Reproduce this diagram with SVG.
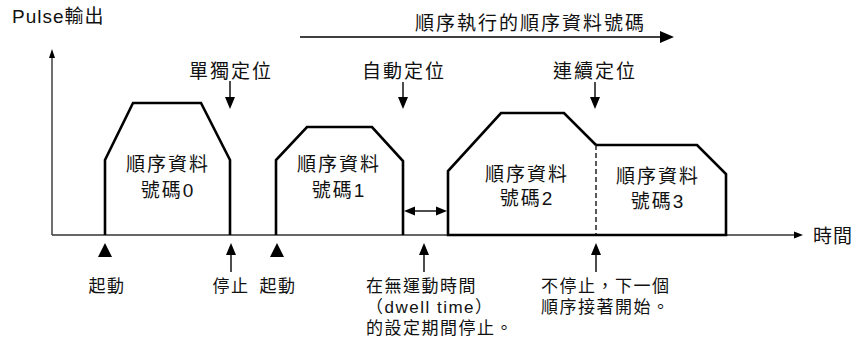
<svg xmlns="http://www.w3.org/2000/svg" width="855" height="347" viewBox="0 0 855 347">
<style>
text{font-family:"Liberation Sans","Noto Sans CJK TC",sans-serif;fill:#111}
.t{font-size:19px;letter-spacing:2px}
.p{font-size:19px;letter-spacing:2px;text-anchor:middle}
.b{font-size:17px;letter-spacing:1.5px}
.bc{font-size:17px;letter-spacing:1.5px;text-anchor:middle}
.ax{stroke:#333;stroke-width:1.4;fill:none}
.pl{stroke:#000;stroke-width:2.6;fill:none;stroke-linejoin:miter}
.ar{stroke:#000;stroke-width:1.4;fill:none}
.tri{fill:#000}
</style>
<g id="axes">
<line class="ax" x1="52" y1="235" x2="52" y2="56"/>
<polygon class="tri" points="52,49 49,58 55,58"/>
<line class="ax" x1="52" y1="235" x2="796" y2="235"/>
<polygon class="tri" points="803,235 794,231.5 794,238.5"/>
<text class="t" x="12" y="23" style="letter-spacing:1px">Pulse輸出</text>
<text class="t" x="813" y="243" style="letter-spacing:1px">時間</text>
</g>
<g id="sequence-arrow">
<line class="ar" x1="300" y1="37" x2="662" y2="37"/>
<polygon class="tri" points="674,37 660,31 660,43"/>
<text class="t" x="415" y="30">順序執行的順序資料號碼</text>
</g>
<g id="pulse0">
<polyline class="pl" points="105,235 105,160 133,103 201,103 230,160 230,235"/>
<text class="p" x="168" y="171">順序資料</text>
<text class="p" x="168" y="197">號碼0</text>
</g>
<g id="pulse1">
<polyline class="pl" points="276,235 276,160 307,127 372,127 403,161 403,235"/>
<text class="p" x="339" y="171">順序資料</text>
<text class="p" x="339" y="197">號碼1</text>
</g>
<g id="pulse2">
<polyline class="pl" points="596,235 448,235 448,171 501,113 564,113 596,145"/>
<line x1="596" y1="145" x2="596" y2="235" stroke="#000" stroke-width="1.3" stroke-dasharray="5,3"/>
<text class="p" x="527" y="181">順序資料</text>
<text class="p" x="527" y="205">號碼2</text>
</g>
<g id="pulse3">
<polyline class="pl" points="596,145 697,145 726,174 726,235 596,235"/>
<text class="p" x="658" y="183">順序資料</text>
<text class="p" x="658" y="208">號碼3</text>
</g>
<g id="labels-top">
<text class="t" x="189" y="78">單獨定位</text>
<text class="t" x="362" y="78">自動定位</text>
<text class="t" x="553" y="78">連續定位</text>
</g>
<g id="connectors">
<line class="ar" x1="230" y1="81" x2="230" y2="98"/>
<polygon class="tri" points="230,109 225,97 235,97"/>
<line class="ar" x1="403" y1="82" x2="403" y2="98"/>
<polygon class="tri" points="403,109 398,97 408,97"/>
<line class="ar" x1="595" y1="82" x2="595" y2="98"/>
<polygon class="tri" points="595,109 590,97 600,97"/>
<line class="ar" x1="410" y1="211" x2="441" y2="211"/>
<polygon class="tri" points="404,211 415,206.5 415,215.5"/>
<polygon class="tri" points="447,211 436,206.5 436,215.5"/>
<polygon class="tri" points="105,243 98,257 112,257"/>
<polygon class="tri" points="277,243 270,257 284,257"/>
<line class="ar" x1="231" y1="252" x2="231" y2="272"/>
<polygon class="tri" points="231,243 226,255 236,255"/>
<line class="ar" x1="424" y1="252" x2="424" y2="272"/>
<polygon class="tri" points="424,243 419,255 429,255"/>
<line class="ar" x1="596" y1="252" x2="596" y2="272"/>
<polygon class="tri" points="596,243 591,255 601,255"/>
</g>
<g id="labels-bottom">
<text class="bc" x="107" y="292">起動</text>
<text class="bc" x="231" y="292">停止</text>
<text class="bc" x="278" y="292">起動</text>
<text class="b" x="366" y="292">在無運動時間</text>
<text class="b" x="366" y="313">（dwell time）</text>
<text class="b" x="366" y="334">的設定期間停止。</text>
<text class="b" x="541" y="292">不停止，下一個</text>
<text class="b" x="541" y="313">順序接著開始。</text>
</g>
</svg>
